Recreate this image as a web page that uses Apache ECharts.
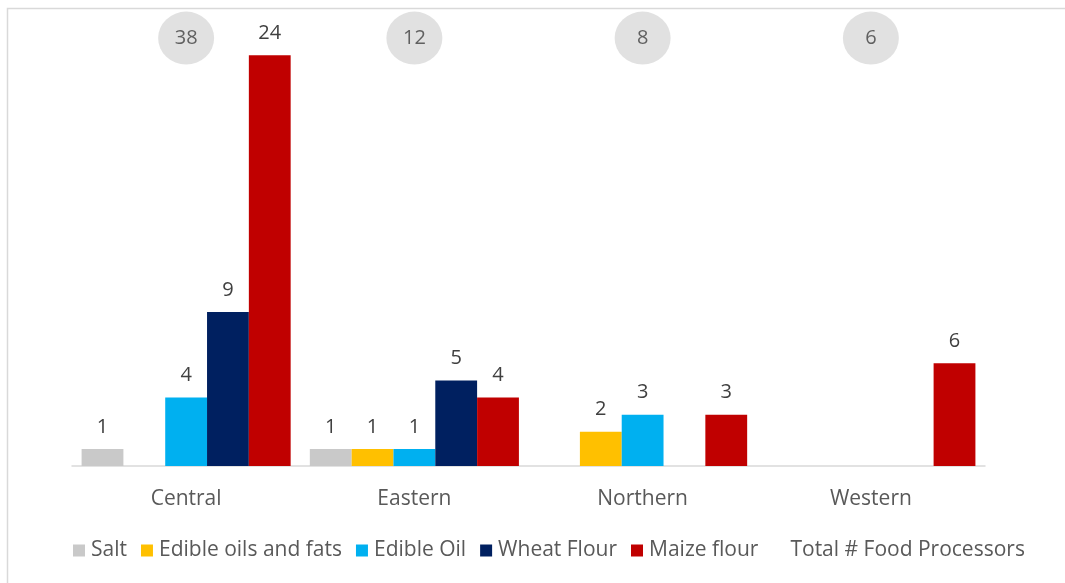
<!DOCTYPE html>
<html>
<head>
<meta charset="utf-8">
<script src="https://cdn.jsdelivr.net/npm/echarts@6/dist/echarts.min.js"></script>
<style>
  html, body { margin: 0; padding: 0; background: #fff; overflow: hidden; }
  #chart { width: 1065px; height: 583px; }
</style>
</head>
<body>
<div id="chart"></div>
<script>
// regions
const categories = ['Central', 'Eastern', 'Northern', 'Western']

// processors per commodity (0 = none)
const salt = [1, 1, 0, 0]
const edibleOilsFats = [0, 1, 2, 0]
const edibleOil = [4, 1, 3, 0]
const wheatFlour = [9, 5, 0, 0]
const maizeFlour = [24, 4, 3, 6]

// total per region, shown in grey bubbles
const totals = [38, 12, 8, 6]
const bubbleLevel = 25

const font = '"Open Sans", "Noto Sans", sans-serif'

const barSeries = [
    { name: 'Salt', data: salt, color: '#c9c9c9' },
    { name: 'Edible oils and fats', data: edibleOilsFats, color: '#ffc000' },
    { name: 'Edible Oil', data: edibleOil, color: '#00b0f0' },
    { name: 'Wheat Flour', data: wheatFlour, color: '#002060' },
    { name: 'Maize flour', data: maizeFlour, color: '#c00000' }
].map(s => ({
    name: s.name,
    type: 'bar',
    barGap: '0%',
    barCategoryGap: '8.4%',
    itemStyle: { color: s.color },
    label: {
        show: true,
        position: 'top',
        distance: 12,
        color: '#404040',
        fontSize: 20,
        fontFamily: font
    },
    data: s.data.map(v => v === 0 ? null : v)
}))

const chart = echarts.init(document.getElementById('chart'), null, { renderer: 'canvas' })

chart.setOption({
    animation: false,
    backgroundColor: '#ffffff',
    graphic: [{
        type: 'polyline',
        shape: { points: [[7.5, 700], [7.5, 8.5], [1200, 8.5]] },
        style: { fill: null, stroke: '#d9d9d9', lineWidth: 1.5 },
        silent: true
    }],
    grid: { left: 72, right: 80, top: 21, bottom: 117 },
    legend: {
        bottom: 17,
        left: 68,
        itemWidth: 12,
        itemHeight: 12,
        itemGap: 14,
        icon: 'rect',
        textStyle: { color: '#595959', fontSize: 21, fontFamily: font, padding: [0, 0, 0, 1] },
        data: [
            'Salt', 'Edible oils and fats', 'Edible Oil', 'Wheat Flour', 'Maize flour',
            { name: 'Total # Food Processors', itemStyle: { color: 'rgba(0,0,0,0)' } }
        ]
    },
    xAxis: {
        type: 'category',
        data: categories,
        axisLine: { lineStyle: { color: '#d9d9d9', width: 1.5 } },
        axisTick: { show: false },
        axisLabel: { color: '#595959', fontSize: 21, fontFamily: font, margin: 23 }
    },
    yAxis: {
        type: 'value',
        min: 0,
        max: 26,
        show: false,
        splitLine: { show: false }
    },
    series: [
        ...barSeries,
        {
            name: 'Total # Food Processors',
            type: 'scatter',
            symbol: 'circle',
            symbolSize: [56, 53],
            itemStyle: { color: '#d9d9d9' },
            label: {
                show: true,
                position: 'inside',
                color: '#404040',
                fontSize: 20,
                fontFamily: font,
                formatter: p => p.value[2]
            },
            data: totals.map((t, i) => [i, bubbleLevel, t])
        }
    ]
})
</script>
</body>
</html>
